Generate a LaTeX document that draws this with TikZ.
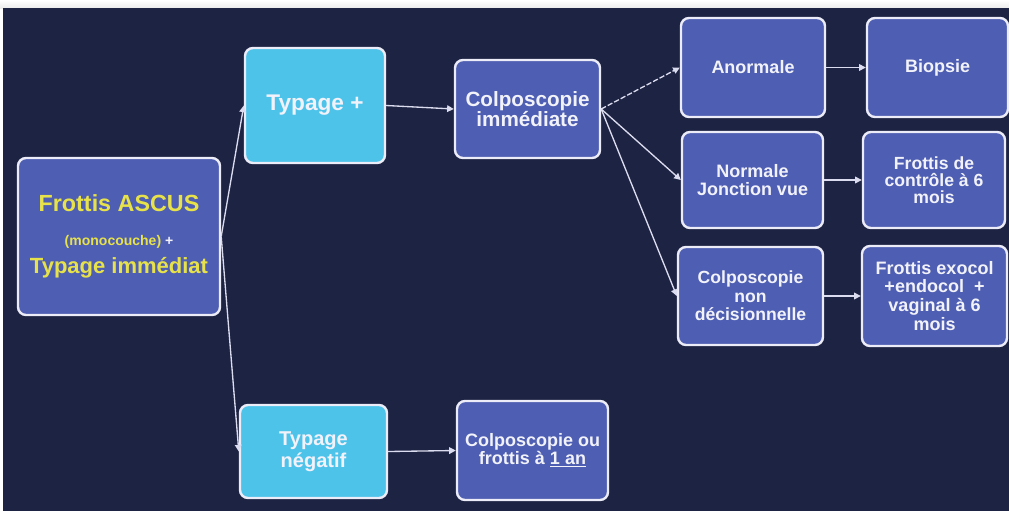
\documentclass[tikz,border=0pt]{standalone}
\usepackage{fontspec}
\setmainfont{Liberation Sans}
\usetikzlibrary{arrows.meta}
\definecolor{bgnavy}{HTML}{1D2342}
\definecolor{boxblue}{HTML}{4E5EB2}
\definecolor{lightblue}{HTML}{4EC3EA}
\definecolor{edgewhite}{HTML}{ECECF8}
\definecolor{txtwhite}{HTML}{F2F2FA}
\definecolor{txtyellow}{HTML}{E8E24A}
\definecolor{linecol}{HTML}{DCDCF0}
\tikzset{
  box/.style={draw=edgewhite, line width=1.8pt, rounded corners=6pt, fill=boxblue,
    text=txtwhite, align=center, inner sep=2pt},
  lbox/.style={box, fill=lightblue},
  conn/.style={draw=linecol, line width=1pt, -{Triangle[length=5pt,width=5pt]}},
  fs/.style 2 args={font=\bfseries\fontsize{#1}{#2}\selectfont}
}
\begin{document}
\begin{tikzpicture}[x=0.75pt,y=-0.75pt]
\useasboundingbox (0,0) rectangle (1009,511);
\fill[white] (0,0) rectangle (1009,511);
\fill[top color=white, bottom color=gray!15] (0,0) rectangle (1009,8);
\fill[bgnavy] (3,8) rectangle (1009,511);

\node[box, fs={17.5}{20}, minimum width=151.5pt, minimum height=117.75pt, text=txtyellow] (asc) at (119,236.5)
  {Frottis ASCUS\\[6pt]
   {\fontsize{10.5}{13}\selectfont (monocouche) {\color{txtwhite}+}}\\[1pt]
   {\fontsize{16.5}{19}\selectfont Typage immédiat}};

\node[lbox, fs={17}{19}, minimum width=105pt, minimum height=86.25pt] (tp) at (315,105.5)
  {Typage +};
\node[box, fs={15.5}{15}, minimum width=108.75pt, minimum height=73.5pt] (ci) at (527.5,109)
  {Colposcopie\\ immédiate};

\node[box, fs={13.5}{14}, minimum width=108pt, minimum height=74.25pt] (an) at (753,67.5)
  {Anormale};
\node[box, fs={13.5}{14}, minimum width=105.75pt, minimum height=74.25pt] (bi) at (937.5,67.5)
  {Biopsie};

\node[box, fs={13.5}{13.5}, minimum width=105.75pt, minimum height=72pt] (nj) at (752.5,180)
  {Normale\\ Jonction vue};
\node[box, fs={13.2}{12.8}, minimum width=106.5pt, minimum height=72pt] (fc) at (934,180)
  {Frottis de\\ contrôle à 6\\ mois};

\node[box, fs={13.2}{13.9}, minimum width=108.75pt, minimum height=73.5pt] (cn) at (750.5,296)
  {Colposcopie\\ non\\ décisionnelle};
\node[box, fs={13.5}{14.2}, minimum width=108.75pt, minimum height=75pt] (fe) at (934.5,296)
  {Frottis exocol\\ +endocol\ \ +\\ vaginal à 6\\ mois};

\node[lbox, fs={15}{16.5}, minimum width=110.25pt, minimum height=69.75pt] (tn) at (313.5,451.5)
  {Typage\\ négatif};
\node[box, fs={13.5}{13.5}, minimum width=113.25pt, minimum height=74.25pt] (cf) at (532.5,450.5)
  {Colposcopie ou\\ frottis à \underline{1 an}};

\draw[conn] (asc.east) -- (tp.west);
\draw[conn] (asc.east) -- (tn.west);
\draw[conn] (tp.east) -- (ci.west);
\draw[conn, dash pattern=on 4pt off 1.5pt] (ci.east) -- (an.west);
\draw[conn] (ci.east) -- (nj.west);
\draw[conn] (ci.east) -- (cn.west);
\draw[conn] (an.east) -- (bi.west);
\draw[conn] (nj.east) -- (fc.west);
\draw[conn] (cn.east) -- (fe.west);
\draw[conn] (tn.east) -- (cf.west);
\end{tikzpicture}
\end{document}
